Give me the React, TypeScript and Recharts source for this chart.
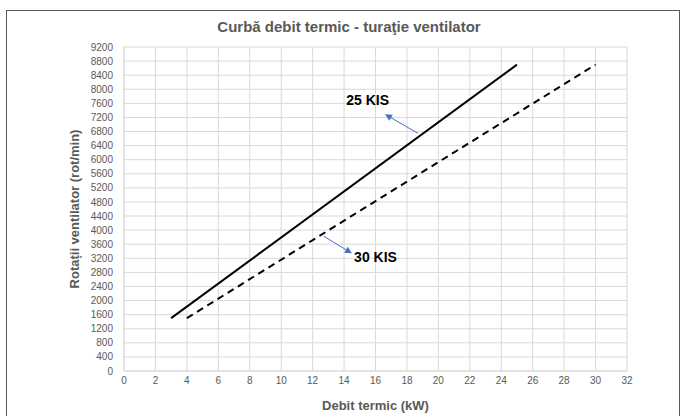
import {
  LineChart, Line, XAxis, YAxis, CartesianGrid, ReferenceLine, ReferenceDot,
} from "recharts";

const W = 687;
const H = 416;

// fan curves (kW -> rot/min)
const kis25 = [
  { x: 3, y: 1500 },
  { x: 25, y: 8700 },
];
const kis30 = [
  { x: 4, y: 1500 },
  { x: 30, y: 8700 },
];

const xTicks = [0, 2, 4, 6, 8, 10, 12, 14, 16, 18, 20, 22, 24, 26, 28, 30, 32];
const yTicks = [
  0, 400, 800, 1200, 1600, 2000, 2400, 2800, 3200, 3600, 4000, 4400, 4800,
  5200, 5600, 6000, 6400, 6800, 7200, 7600, 8000, 8400, 8800, 9200,
];

// annotation arrows, in data coords
const arrow25 = [{ x: 18.7, y: 6750 }, { x: 16.6, y: 7290 }];
const arrow30 = [{ x: 12.7, y: 3830 }, { x: 14.5, y: 3340 }];
const label25 = { x: 15.5, y: 7700, text: "25 KIS" };
const label30 = { x: 16.0, y: 3250, text: "30 KIS" };

const tickStyle = { fontSize: 10, fill: "#595959", fontFamily: "Liberation Sans, Arial, sans-serif" };
const boldFont = "Liberation Sans Narrow, Liberation Sans, Arial, sans-serif";

const ArrowShape = (props: any) => {
  const { x1, y1, x2, y2 } = props;
  if (x1 == null) return null;
  const ang = Math.atan2(y2 - y1, x2 - x1);
  const len = 7;
  const w = 3.5;
  const bx = x2 - len * Math.cos(ang);
  const by = y2 - len * Math.sin(ang);
  const px = -Math.sin(ang) * w;
  const py = Math.cos(ang) * w;
  return (
    <g>
      <line x1={x1} y1={y1} x2={bx} y2={by} stroke="#4472c4" strokeWidth={1} />
      <polygon
        points={`${x2},${y2} ${bx + px},${by + py} ${bx - px},${by - py}`}
        fill="#4472c4"
      />
    </g>
  );
};

export default function App() {
  return (
    <div style={{ position: "absolute", left: 0, top: 0, width: W, height: H, background: "#fff" }}>
      <div
        style={{
          position: "absolute", left: 6, top: 10, width: 674, height: 420,
          border: "1.5px solid #595959", boxSizing: "border-box", pointerEvents: "none",
        }}
      />
      <div
        style={{
          position: "absolute", left: 0, top: 18, width: 698, textAlign: "center",
          fontFamily: boldFont, fontWeight: "bold", fontSize: 15, color: "#595959",
        }}
      >
        Curbă debit termic - turaţie ventilator
      </div>
      <LineChart
        width={W}
        height={H}
        margin={{ top: 47, right: 60, left: 0, bottom: 0 }}
        style={{ position: "absolute", left: 0, top: 0 }}
      >
        <CartesianGrid stroke="#d9d9d9" strokeWidth={1} horizontal vertical />
        <XAxis
          type="number"
          dataKey="x"
          domain={[0, 32]}
          ticks={xTicks}
          interval={0}
          height={45}
          tickLine={false}
          tickMargin={0}
          axisLine={{ stroke: "#d9d9d9" }}
          tick={tickStyle}
          label={{
            value: "Debit termic (kW)", position: "insideBottom", offset: 6,
            style: { fontFamily: boldFont, fontWeight: "bold", fontSize: 13, fill: "#595959" },
          }}
        />
        <YAxis
          type="number"
          dataKey="y"
          domain={[0, 9200]}
          ticks={yTicks}
          interval={0}
          width={124}
          tickLine={false}
          tickMargin={5}
          axisLine={{ stroke: "#d9d9d9" }}
          tick={tickStyle}
          label={{
            value: "Rotații ventilator (rot/min)", angle: -90, position: "insideLeft", offset: 74,
            style: { textAnchor: "middle", fontFamily: boldFont, fontWeight: "bold", fontSize: 13, fill: "#595959" },
          }}
        />
        <Line
          data={kis25}
          dataKey="y"
          stroke="#000"
          strokeWidth={2}
          dot={false}
          isAnimationActive={false}
        />
        <Line
          data={kis30}
          dataKey="y"
          stroke="#000"
          strokeWidth={2}
          strokeDasharray="7 5"
          dot={false}
          isAnimationActive={false}
        />
        <ReferenceLine
          segment={arrow25}
          shape={ArrowShape}
          ifOverflow="visible"
        />
        <ReferenceLine
          segment={arrow30}
          shape={ArrowShape}
          ifOverflow="visible"
        />
        {[label25, label30].map((l) => (
          <ReferenceDot
            key={l.text}
            x={l.x}
            y={l.y}
            r={0}
            fill="none"
            stroke="none"
            ifOverflow="visible"
            label={{
              value: l.text, position: "center",
              style: { fontFamily: boldFont, fontWeight: "bold", fontSize: 14, fill: "#000" },
            }}
          />
        ))}
      </LineChart>
    </div>
  );
}
